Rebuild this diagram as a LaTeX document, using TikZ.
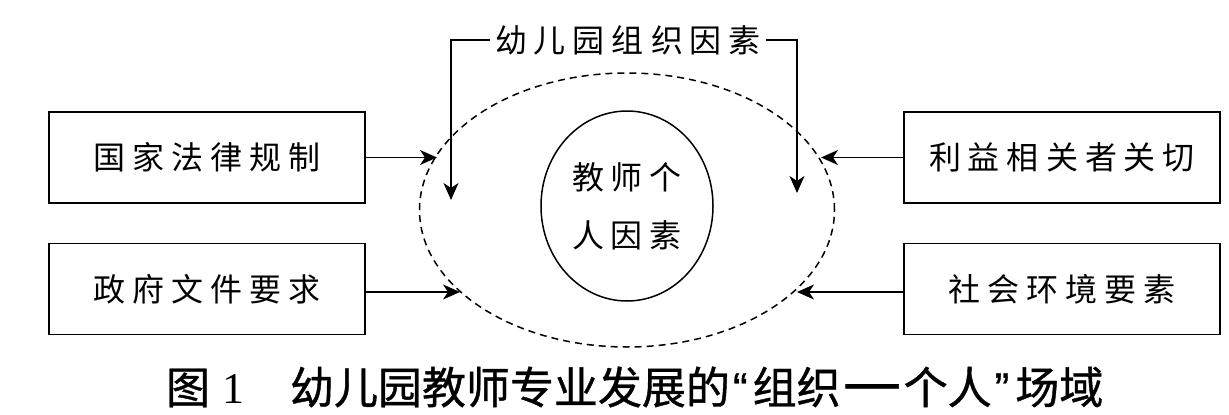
\documentclass[tikz,border=0pt]{standalone}
\usepackage{fontspec}
\setmainfont{Noto Sans CJK SC}
\newfontfamily\capfont[FakeBold=0.9]{Noto Sans CJK SC}
\newfontfamily\latinsans[FakeBold=0.9]{Liberation Sans}
\newfontfamily\latinserif{Liberation Serif}
\usetikzlibrary{arrows.meta,shapes.geometric}
\newcommand\gp{\hspace{7pt}}
\begin{document}
\begin{tikzpicture}[x=1pt,y=-1pt,
  every node/.style={inner sep=0pt, outer sep=0pt},
  boxnode/.style={draw, line width=1.5pt, minimum width=316pt, minimum height=91pt,
    font=\fontsize{32}{38}\selectfont},
  arr/.style={-{Stealth[length=17pt,width=15pt,inset=5pt]}, line width=1.4pt},
  lbl/.style={font=\fontsize{32}{38}\selectfont}]
\useasboundingbox (0,0) rectangle (1229,415);
% boxes
\node[boxnode] (b1) at (207,157.5) {国\gp 家\gp 法\gp 律\gp 规\gp 制};
\node[boxnode] (b2) at (207,289) {政\gp 府\gp 文\gp 件\gp 要\gp 求};
\node[boxnode] (b3) at (1062,157.5) {利\gp 益\gp 相\gp 关\gp 者\gp 关\gp 切};
\node[boxnode] (b4) at (1062,289) {社\gp 会\gp 环\gp 境\gp 要\gp 素};
% outer dashed ellipse
\node[draw, ellipse, dash pattern=on 7pt off 5pt, line width=1.5pt,
  minimum width=415pt, minimum height=274pt] (outer) at (627,210) {};
% inner ellipse
\node[draw, ellipse, line width=1.5pt, minimum width=172pt, minimum height=190pt,
  align=center, font=\fontsize{32}{58}\selectfont] (inner) at (627,206)
  {教\gp 师\gp 个\\人\gp 因\gp 素};
% top label
\node[lbl, inner sep=5pt] (org) at (628,40) {幼\gp 儿\gp 园\gp 组\gp 织\gp 因\gp 素};
\coordinate (tl) at (451,40);
\coordinate (tld) at (451,200);
\coordinate (tr) at (797,40);
\coordinate (trd) at (797,193);
\draw[arr] (org.west) -- (tl) -- (tld);
\draw[arr] (org.east) -- (tr) -- (trd);
% arrow ends on ellipse
\coordinate (e1) at (437,157.5);
\coordinate (e2) at (460,292);
\coordinate (e3) at (821,157.5);
\coordinate (e4) at (797,292);
\draw[arr] (b1.east) -- (b1.east -| e1);
\draw[arr] (b2.east |- e2) -- (e2);
\draw[arr] (b3.west) -- (b3.west -| e3);
\draw[arr] (b4.west |- e4) -- (e4);
% caption
\node[anchor=west, font=\fontsize{44}{48}\selectfont\capfont] (cap) at (166,387)
  {图\hspace{12pt}{\latinserif 1}\hspace{46pt}幼儿园教师专业发展的\hspace{3pt}{\latinsans“}\hspace{5pt}组织\hspace{2pt}\scalebox{1.5}[1.4]{—}\hspace{2pt}个人\hspace{3pt}{\latinsans”}\hspace{6pt}场域};
\end{tikzpicture}
\end{document}
